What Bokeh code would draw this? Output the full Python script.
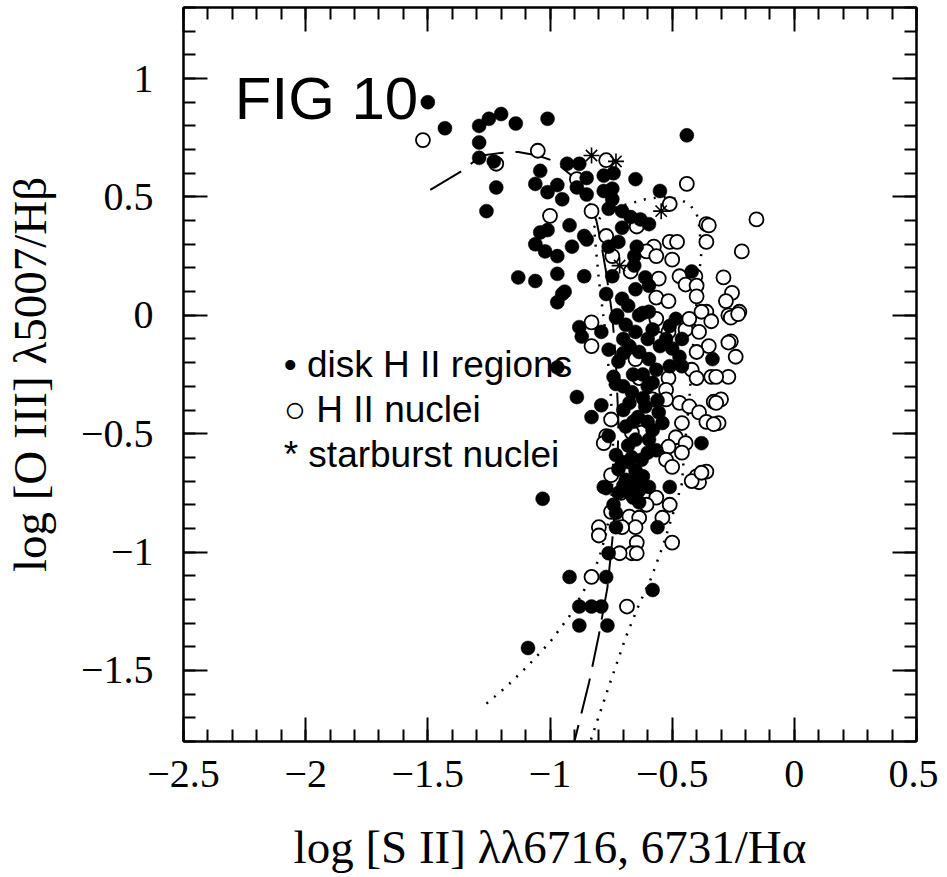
import numpy as np
from bokeh.plotting import figure
from bokeh.models import LinearAxis, FixedTicker, CustomJSTickFormatter, Label, Range1d
from bokeh.embed import file_html
from bokeh.resources import INLINE

# ---------------- data ----------------
# disk H II regions (filled circles)
disk_x = [
    -1.50, -1.43, -1.29, -1.25, -1.20, -1.14, -1.01, -1.29, -1.29, -1.23,
    -1.22, -1.26, -0.93, -0.88, -1.04, -1.06, -1.01, -0.97, -0.95, -0.85,
    -0.85, -0.89, -0.78, -0.78, -0.745, -0.92, -1.04, -1.01, -0.86, -1.06,
    -1.02, -0.97, -0.91, -0.85, -1.13, -1.06, -0.97, -0.86, -0.94, -0.76,
    -0.44, -0.74, -0.65, -0.55, -0.745, -0.76, -0.705, -0.67, -0.63, -0.595,
    -0.705, -0.72, -0.645, -0.655, -0.655, -0.42, -0.745, -0.61, -0.77, -0.705,
    -0.65, -0.595, -0.62, -0.725, -0.95, -0.97, -0.88, -0.87, -0.79, -0.97,
    -0.76, -0.72, -0.74, -0.73, -0.89, -0.79, -0.83, -0.76, -0.69, -0.73,
    -0.705, -0.665, -0.78, -0.635, -0.69, -0.73, -0.65, -0.595, -0.58, -0.675,
    -0.635, -0.595, -0.565, -0.58, -0.665, -0.675, -0.61, -0.555, -0.54, -0.58,
    -0.595, -0.65, -0.565, -0.625, -0.65, -0.69, -0.635, -0.595, -0.51, -0.485,
    -0.46, -0.47, -0.525, -0.51, -0.46, -0.335, -0.38, -1.03, -0.77, -0.51,
    -0.74, -0.73, -0.675, -0.635, -0.635, -0.56, -0.73, -0.76, -0.92, -0.77,
    -0.58, -0.88, -0.83, -0.79, -0.88, -0.765, -1.09, -0.70, -0.62, -0.64,
    -0.60, -0.68, -0.70, -0.66, -0.55, -0.50, -0.72, -0.68, -0.62, -0.66,
    -0.72, -0.60, -0.66, -0.70, -0.62, -0.70, -0.66, -0.60, -0.56, -0.68,
    -0.60, -0.70]
disk_y = [
    0.90, 0.79, 0.80, 0.83, 0.85, 0.81, 0.83, 0.73, 0.665, 0.65,
    0.54, 0.44, 0.64, 0.64, 0.61, 0.555, 0.52, 0.55, 0.49, 0.58,
    0.51, 0.54, 0.59, 0.525, 0.535, 0.38, 0.35, 0.36, 0.335, 0.30,
    0.27, 0.25, 0.29, 0.32, 0.16, 0.145, 0.175, 0.165, 0.10, 0.29,
    0.76, 0.60, 0.575, 0.525, 0.49, 0.45, 0.44, 0.415, 0.405, 0.385,
    0.37, 0.31, 0.29, 0.25, 0.21, 0.185, 0.165, 0.16, 0.09, 0.07,
    0.11, 0.125, 0.01, 0.0, 0.09, 0.055, -0.05, -0.09, -0.07, -0.22,
    -0.145, -0.195, -0.26, -0.29, -0.345, -0.38, -0.43, -0.51, -0.47, -0.59,
    -0.62, -0.60, -0.725, 0.0, -0.04, -0.01, -0.07, 0.015, -0.06, -0.13,
    -0.155, -0.185, -0.23, -0.285, -0.325, -0.37, -0.385, -0.41, -0.455, -0.485,
    -0.525, -0.525, -0.57, -0.61, -0.655, -0.695, -0.725, -0.725, -0.045, -0.015,
    -0.10, -0.175, -0.10, -0.215, -0.215, -0.185, -0.54, -0.775, -0.73, -0.725,
    -0.80, -0.835, -0.75, -0.74, -0.79, -0.895, -0.895, -1.005, -1.105, -1.105,
    -1.16, -1.23, -1.23, -1.23, -1.31, -1.31, -1.405, -0.10, -0.25, -0.43,
    -0.45, -0.55, -0.72, -0.77, -0.13, -0.14, -0.65, -0.62, -0.68, -0.70,
    -0.75, -0.58, -0.45, -0.40, -0.35, -0.30, -0.25, -0.30, -0.36, 0.04,
    -0.10, -0.16]

# H II nuclei (open circles)
nuc_x = [
    -1.52, -1.22, -1.05, -0.77, -0.89, -1.00, -0.83, -0.77, -0.745, -0.44,
    -0.51, -0.645, -0.575, -0.51, -0.48, -0.36, -0.36, -0.155, -0.215, -0.605,
    -0.565, -0.50, -0.67, -0.555, -0.47, -0.405, -0.29, -0.445, -0.40, -0.255,
    -0.28, -0.40, -0.565, -0.515, -0.36, -0.27, -0.225, -0.83, -0.83, -0.75,
    -0.77, -0.78, -0.75, -0.565, -0.555, -0.515, -0.445, -0.43, -0.38, -0.34,
    -0.39, -0.35, -0.40, -0.26, -0.23, -0.26, -0.24, -0.34, -0.27, -0.65,
    -0.635, -0.515, -0.42, -0.40, -0.33, -0.30, -0.31, -0.47, -0.43, -0.39,
    -0.36, -0.46, -0.485, -0.445, -0.46, -0.515, -0.525, -0.50, -0.40, -0.36,
    -0.39, -0.625, -0.665, -0.58, -0.525, -0.525, -0.75, -0.71, -0.565, -0.51,
    -0.605, -0.675, -0.635, -0.65, -0.705, -0.54, -0.42, -0.80, -0.80, -0.50,
    -0.645, -0.665, -0.645, -0.715, -0.83, -0.685, -0.35, -0.27, -0.32, -0.32,
    -0.33, -0.38]
nuc_y = [
    0.74, 0.64, 0.695, 0.655, 0.575, 0.42, 0.44, 0.335, 0.25, 0.555,
    0.47, 0.375, 0.29, 0.31, 0.31, 0.385, 0.31, 0.405, 0.27, 0.27,
    0.25, 0.235, 0.185, 0.155, 0.165, 0.165, 0.16, 0.13, 0.125, 0.095,
    0.06, 0.08, 0.075, 0.06, 0.015, 0.0, 0.015, -0.03, -0.13, -0.44,
    -0.51, -0.54, -0.675, -0.015, -0.10, -0.07, -0.06, -0.015, 0.015, -0.025,
    -0.07, -0.13, -0.155, -0.01, 0.005, -0.11, -0.175, -0.26, -0.26, -0.185,
    -0.265, -0.265, -0.23, -0.265, -0.365, -0.355, -0.455, -0.37, -0.385, -0.41,
    -0.45, -0.455, -0.515, -0.54, -0.58, -0.555, -0.61, -0.64, -0.68, -0.66,
    -0.705, -0.495, -0.495, -0.355, -0.315, -0.355, -0.83, -0.75, -0.77, -0.80,
    -0.80, -0.85, -0.855, -0.895, -0.895, -0.855, -0.70, -0.895, -0.93, -0.96,
    -0.96, -1.005, -1.005, -1.005, -1.105, -1.23, 0.38, -0.115, -0.26, -0.37,
    -0.46, -0.665]

# starburst nuclei (asterisks)
sb_x = [-0.83, -0.73, -0.545, -0.715]
sb_y = [0.675, 0.65, 0.44, 0.21]

# model curves
dash_x = [-1.49, -1.36, -1.28, -1.20, -1.13, -1.05, -0.98, -0.90, -0.84, -0.81,
          -0.79, -0.77, -0.745, -0.73, -0.72, -0.725, -0.745, -0.765, -0.80, -0.84, -0.90]
dash_y = [0.53, 0.61, 0.675, 0.686, 0.69, 0.675, 0.65, 0.58, 0.48, 0.40,
          0.30, 0.18, 0.0, -0.2, -0.45, -0.7, -0.95, -1.15, -1.35, -1.55, -1.80]

dotL_x = [-1.26, -1.18, -1.09, -1.00, -0.92, -0.86, -0.80, -0.77, -0.75, -0.74,
          -0.75, -0.77, -0.80, -0.82]
dotL_y = [-1.64, -1.57, -1.48, -1.38, -1.27, -1.16, -1.03, -0.92, -0.80, -0.60,
          -0.35, -0.10, 0.15, 0.37]
dotR_x = [-0.82, -0.79, -0.75, -0.68, -0.61, -0.54, -0.47, -0.43, -0.40, -0.39,
          -0.38, -0.39, -0.41, -0.43, -0.45, -0.46, -0.50, -0.54, -0.59, -0.635,
          -0.69, -0.76, -0.835]
dotR_y = [0.37, 0.42, 0.45, 0.47, 0.49, 0.50, 0.49, 0.47, 0.43, 0.38,
          0.27, 0.165, -0.06, -0.36, -0.57, -0.71, -0.85, -0.98, -1.12, -1.22,
          -1.36, -1.57, -1.80]

x_major = [-2.5, -2.0, -1.5, -1.0, -0.5, 0.0, 0.5]
y_major = [-1.5, -1.0, -0.5, 0.0, 0.5, 1.0]
x_minor = [round(v, 1) for v in np.arange(-2.5, 0.51, 0.1)]
y_minor = [round(v, 1) for v in np.arange(-1.8, 1.31, 0.1)]

# ---------------- figure ----------------
SERIF = "Liberation Serif"
SANS = "Liberation Sans"

p = figure(frame_width=733, frame_height=734,
           x_range=Range1d(-2.5, 0.5), y_range=Range1d(-1.8, 1.3),
           output_backend="svg", toolbar_location=None,
           min_border_left=182, min_border_right=22,
           min_border_top=7, min_border_bottom=126,
           x_axis_label="log [S II] λλ6716, 6731/Hα",
           y_axis_label="log [O III] λ5007/Hβ")
p.background_fill_color = "white"
p.border_fill_color = "white"
p.xgrid.visible = False
p.ygrid.visible = False
p.outline_line_color = "black"
p.outline_line_width = 2

fmt_code = """
const v = Math.round(tick * 10) / 10;
const s = Math.abs(v) < 1e-9 ? "0" : String(Math.abs(v));
return v < -1e-9 ? "\u2212" + s : s;
"""

def style_axis(ax, labels=True):
    ax.axis_line_color = "black"
    ax.axis_line_width = 2
    ax.major_tick_line_color = "black"
    ax.major_tick_line_width = 2
    ax.minor_tick_line_color = "black"
    ax.minor_tick_line_width = 2
    ax.major_tick_in = 24
    ax.major_tick_out = 0
    ax.minor_tick_in = 12
    ax.minor_tick_out = 0
    if labels:
        ax.major_label_text_font = SERIF
        ax.major_label_text_font_size = "40px"
        ax.major_label_text_color = "black"
        ax.axis_label_text_font = SERIF
        ax.axis_label_text_font_size = "47px"
        ax.axis_label_text_font_style = "normal"
        ax.axis_label_text_color = "black"
        ax.formatter = CustomJSTickFormatter(code=fmt_code)
    else:
        ax.major_label_text_font_size = "0px"
        ax.major_label_standoff = 0
        ax.formatter = CustomJSTickFormatter(code="return '';")

xt = FixedTicker(ticks=x_major, minor_ticks=x_minor)
yt = FixedTicker(ticks=y_major, minor_ticks=y_minor)

p.xaxis.ticker = xt
p.yaxis.ticker = yt
style_axis(p.xaxis[0])
style_axis(p.yaxis[0])
p.xaxis.major_label_standoff = 19
p.xaxis.axis_label_standoff = 31
p.yaxis.major_label_standoff = 30
p.yaxis.axis_label_standoff = 22

top_ax = LinearAxis(ticker=FixedTicker(ticks=x_major, minor_ticks=x_minor))
style_axis(top_ax, labels=False)
p.add_layout(top_ax, "above")
right_ax = LinearAxis(ticker=FixedTicker(ticks=y_major, minor_ticks=y_minor))
style_axis(right_ax, labels=False)
p.add_layout(right_ax, "right")

# model curves
p.line(dash_x, dash_y, line_color="black", line_width=2, line_dash="36 12")
p.line(dotL_x, dotL_y, line_color="black", line_width=2.5, line_dash="2 8")
p.line(dotR_x, dotR_y, line_color="black", line_width=2.5, line_dash="2 8")

# points
p.scatter(nuc_x, nuc_y, marker="circle", size=14, fill_color="white",
          line_color="black", line_width=1.8)
p.scatter(disk_x, disk_y, marker="circle", size=14, fill_color="black",
          line_color="black", line_width=0.5)
p.scatter(sb_x, sb_y, marker="asterisk", size=16, line_color="black", line_width=1.6)

# annotations
p.add_layout(Label(x=-2.29, y=0.915, text="FIG 10", text_font=SANS,
                   text_font_size="60px", text_color="black",
                   text_baseline="alphabetic"))
legend_lines = ["• disk H II regions", "○ H II nuclei", "* starburst nuclei"]
legend_y = [-0.208, -0.398, -0.589]
for t, yy in zip(legend_lines, legend_y):
    p.add_layout(Label(x=-2.09, y=yy, text=t, text_font=SANS,
                       text_font_size="37px", text_color="black",
                       text_baseline="alphabetic"))

open("out.html", "w").write(file_html(p, INLINE))
